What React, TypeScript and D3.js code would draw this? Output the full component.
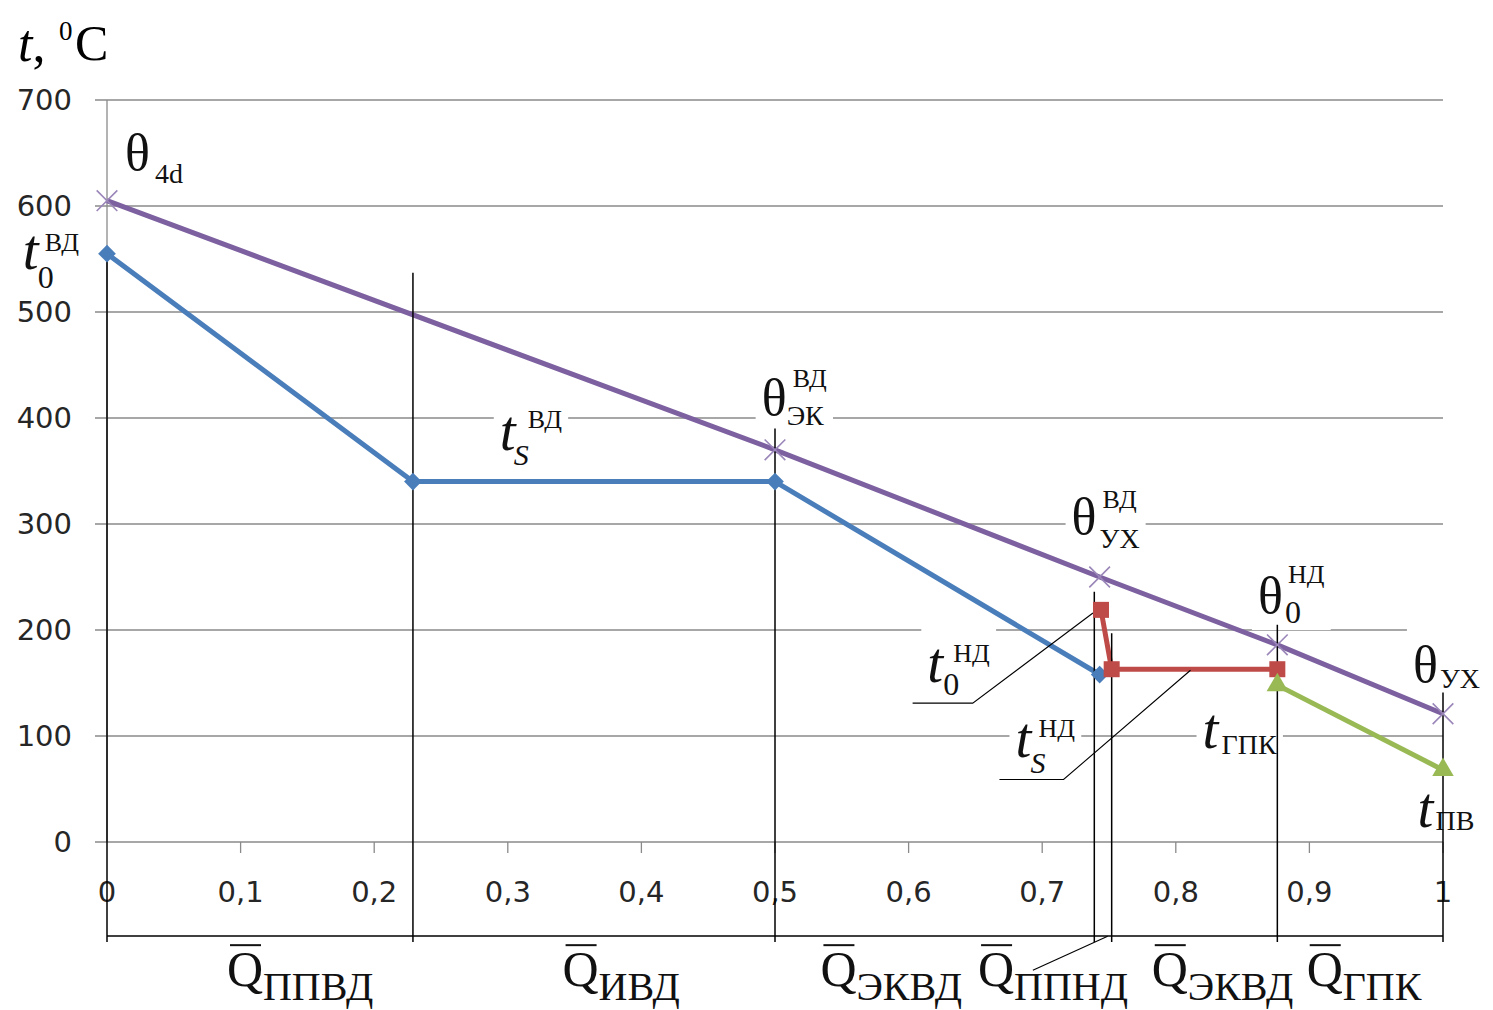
import * as d3 from "d3";
import React, { useEffect, useRef } from "react";

const width = 1493;
const height = 1010;

// axis ticks
const yTicks = [0, 100, 200, 300, 400, 500, 600, 700];
const xTicks = [0, 0.1, 0.2, 0.3, 0.4, 0.5, 0.6, 0.7, 0.8, 0.9, 1];
const xTickLabels = ["0", "0,1", "0,2", "0,3", "0,4", "0,5", "0,6", "0,7", "0,8", "0,9", "1"];

// water / steam, high pressure (blue)
const hpQ = [0, 0.229, 0.5, 0.743];
const hpT = [555, 340, 340, 158];
// flue gas (purple)
const gasQ = [0, 0.5, 0.743, 0.876, 1];
const gasT = [605, 370, 250, 186, 121];
// low pressure (red)
const lpQ = [0.744, 0.752, 0.876];
const lpT = [219, 163, 163];
// gas condensate heater (green)
const gpkQ = [0.876, 1];
const gpkT = [148, 68];

// section boundaries (vertical black lines), top end in degC
const boundQ = [0, 0.229, 0.5, 0.739, 0.752, 0.876, 1];
const boundTop = [555, 537, 390, 236, 197, 205, 141];

// point annotations
const labels = [
  { q: 0.0135, t: 634, main: "θ", sub: "4d", subDx: 30, subDy: 13 },
  { q: -0.063, t: 541, main: "t", italic: true, sup: "ВД", sub: "0", supDx: 22, supDy: -18, subDx: 15, subDy: 19 },
  { q: 0.294, t: 370, main: "t", italic: true, sup: "ВД", sub: "S", subItalic: true, supDx: 28, supDy: -22, subDx: 14, subDy: 15 },
  { q: 0.49, t: 403, main: "θ", sup: "ВД", sub: "ЭК", supDx: 31, supDy: -28, subDx: 25, subDy: 10 },
  { q: 0.722, t: 291, main: "θ", sup: "ВД", sub: "УХ", supDx: 31, supDy: -26, subDx: 28, subDy: 14 },
  { q: 0.8615, t: 216, main: "θ", sup: "НД", sub: "0", supDx: 30, supDy: -30, subDx: 27, subDy: 10 },
  { q: 0.9775, t: 151, main: "θ", sub: "УХ", subDx: 27, subDy: 6 },
  { q: 0.614, t: 151, main: "t", italic: true, sup: "НД", sub: "0", supDx: 26, supDy: -20, subDx: 16, subDy: 13 },
  { q: 0.68, t: 80, main: "t", italic: true, sup: "НД", sub: "S", subItalic: true, supDx: 23, supDy: -20, subDx: 15, subDy: 16 },
  { q: 0.82, t: 89, main: "t", italic: true, sub: "ГПК", subDx: 19, subDy: 6 },
  { q: 0.981, t: 14, main: "t", italic: true, sub: "ПВ", subDx: 18, subDy: 3 },
];

// heat share labels below the chart
const qLabelQ = [0.0898, 0.341, 0.534, 0.652, 0.782, 0.898];
const qLabelSub = ["ППВД", "ИВД", "ЭКВД", "ППНД", "ЭКВД", "ГПК"];

// leader lines [q, t]
const leaders: [number, number][][] = [
  [[0.603, 131], [0.648, 131], [0.738, 216]],
  [[0.668, 59], [0.716, 59], [0.811, 162]],
  [[0.693, -121], [0.749, -89]],
];

const serif = "'Liberation Serif', 'Times New Roman', serif";
const sans = "'DejaVu Sans', Verdana, sans-serif";

const App = () => {
  const svgRef = useRef<SVGSVGElement>(null);

  useEffect(() => {
    document.body.style.margin = "0";
    const svg = d3.select(svgRef.current);
    svg.selectAll("*").remove();

    const x = d3.scaleLinear().domain([0, 1]).range([107, 1443]);
    const y = d3.scaleLinear().domain([0, 700]).range([842, 100]);
    const grid = "#8a8a8a";

    svg.append("rect").attr("width", width).attr("height", height).attr("fill", "#fff");

    // gridlines + y ticks
    svg.append("g").selectAll("line").data(yTicks).enter().append("line")
      .attr("x1", x(0) - 12).attr("x2", x(1))
      .attr("y1", (d) => y(d)).attr("y2", (d) => y(d))
      .attr("stroke", grid).attr("stroke-width", 1.3);
    svg.append("line").attr("x1", x(0)).attr("x2", x(0)).attr("y1", y(700)).attr("y2", y(0))
      .attr("stroke", grid).attr("stroke-width", 1.3);
    svg.append("g").selectAll("line").data(xTicks.slice(1)).enter().append("line")
      .attr("x1", (d) => x(d)).attr("x2", (d) => x(d))
      .attr("y1", y(0)).attr("y2", y(0) + 11)
      .attr("stroke", grid).attr("stroke-width", 1.3);

    // white boxes of the annotations go over the grid only
    const boxLayer = svg.append("g");

    svg.append("g").selectAll("text").data(yTicks).enter().append("text")
      .attr("x", 72).attr("y", (d) => y(d)).attr("dy", "0.36em")
      .attr("text-anchor", "end").attr("font-family", sans).attr("font-size", 29)
      .attr("fill", "#262626").text((d) => d);
    svg.append("g").selectAll("text").data(xTicks).enter().append("text")
      .attr("x", (d) => x(d)).attr("y", 892).attr("dy", "0.36em")
      .attr("text-anchor", "middle").attr("font-family", sans).attr("font-size", 29)
      .attr("fill", "#262626").text((d, i) => xTickLabels[i]);

    // axis title
    const title = svg.append("text").attr("x", 18).attr("y", 61).attr("font-family", serif).attr("font-size", 52);
    title.append("tspan").attr("font-style", "italic").text("t");
    title.append("tspan").text(",");
    svg.append("text").attr("x", 59).attr("y", 40).attr("font-family", serif).attr("font-size", 27).text("0");
    svg.append("text").attr("x", 75).attr("y", 60).attr("font-family", serif).attr("font-size", 50).text("C");

    // annotations
    const labelLayer = svg.append("g").attr("font-family", serif).attr("fill", "#111");
    labels.forEach((l) => {
      const px = x(l.q);
      const py = y(l.t);
      const g = labelLayer.append("g");
      g.append("text").attr("x", px).attr("y", py)
        .attr("font-size", l.italic ? 57 : 52)
        .attr("font-style", l.italic ? "italic" : "normal").text(l.main);
      if (l.sup) {
        g.append("text").attr("x", px + (l.supDx || 0)).attr("y", py + (l.supDy || 0))
          .attr("font-size", 26).text(l.sup);
      }
      if (l.sub) {
        const isDigit = l.sub === "0";
        g.append("text").attr("x", px + (l.subDx || 0)).attr("y", py + (l.subDy || 0))
          .attr("font-size", isDigit ? 32 : l.subItalic ? 30 : 28)
          .attr("font-style", l.subItalic ? "italic" : "normal").text(l.sub);
      }
      const b = (g.node() as SVGGElement).getBBox();
      boxLayer.append("rect").attr("x", b.x - 6).attr("y", b.y - 8)
        .attr("width", b.width + 12).attr("height", b.height + 8).attr("fill", "#fff");
    });

    // Q labels
    const qg = svg.append("g").attr("font-family", serif).attr("fill", "#111");
    qLabelQ.forEach((q, i) => {
      const px = x(q);
      const py = y(-136);
      qg.append("text").attr("x", px).attr("y", py).attr("font-size", 50).text("Q");
      qg.append("line").attr("x1", px + 3).attr("x2", px + 34)
        .attr("y1", py - 41).attr("y2", py - 41).attr("stroke", "#111").attr("stroke-width", 2);
      qg.append("text").attr("x", px + 36).attr("y", py + 14).attr("font-size", 40).text(qLabelSub[i]);
    });

    // series
    const line = d3.line<[number, number]>().x((d) => x(d[0])).y((d) => y(d[1]));
    const series = [
      { q: hpQ, t: hpT, color: "#4a7ebb", marker: "diamond" },
      { q: gasQ, t: gasT, color: "#7d60a0", marker: "cross" },
      { q: lpQ, t: lpT, color: "#be4b48", marker: "square" },
      { q: gpkQ, t: gpkT, color: "#98b954", marker: "triangle" },
    ];
    series.forEach((s) => {
      const pts = s.q.map((q, i) => [q, s.t[i]] as [number, number]);
      svg.append("path").attr("d", line(pts)).attr("fill", "none")
        .attr("stroke", s.color).attr("stroke-width", 5).attr("stroke-linejoin", "round");
    });

    // section boundaries
    const bg = svg.append("g").attr("stroke", "#000").attr("stroke-width", 1.5);
    boundQ.forEach((q, i) => {
      bg.append("line").attr("x1", x(q)).attr("x2", x(q))
        .attr("y1", y(boundTop[i])).attr("y2", y(0) + 100);
    });
    bg.append("line").attr("x1", x(0)).attr("x2", x(1)).attr("y1", y(0) + 94).attr("y2", y(0) + 94);

    // leaders
    leaders.forEach((pts) => {
      svg.append("path").attr("d", line(pts)).attr("fill", "none")
        .attr("stroke", "#000").attr("stroke-width", 1.1);
    });

    // markers
    series.forEach((s) => {
      const mg = svg.append("g");
      s.q.forEach((q, i) => {
        const cx = x(q);
        const cy = y(s.t[i]);
        if (s.marker === "diamond") {
          mg.append("path").attr("d", d3.symbol(d3.symbolDiamond2, 200)())
            .attr("transform", `translate(${cx},${cy})`).attr("fill", s.color);
        } else if (s.marker === "square") {
          mg.append("rect").attr("x", cx - 8).attr("y", cy - 8).attr("width", 16).attr("height", 16)
            .attr("fill", s.color);
        } else if (s.marker === "triangle") {
          mg.append("path").attr("d", d3.symbol(d3.symbolTriangle, 200)())
            .attr("transform", `translate(${cx},${cy})`).attr("fill", s.color);
        } else {
          mg.append("path").attr("d", d3.symbol(d3.symbolTimes, 280)())
            .attr("transform", `translate(${cx},${cy})`).attr("fill", "none")
            .attr("stroke", "#9a86b8").attr("stroke-width", 1.6);
        }
      });
    });
  }, []);

  return <svg ref={svgRef} width={width} height={height} style={{ display: "block" }} />;
};

export default App;
